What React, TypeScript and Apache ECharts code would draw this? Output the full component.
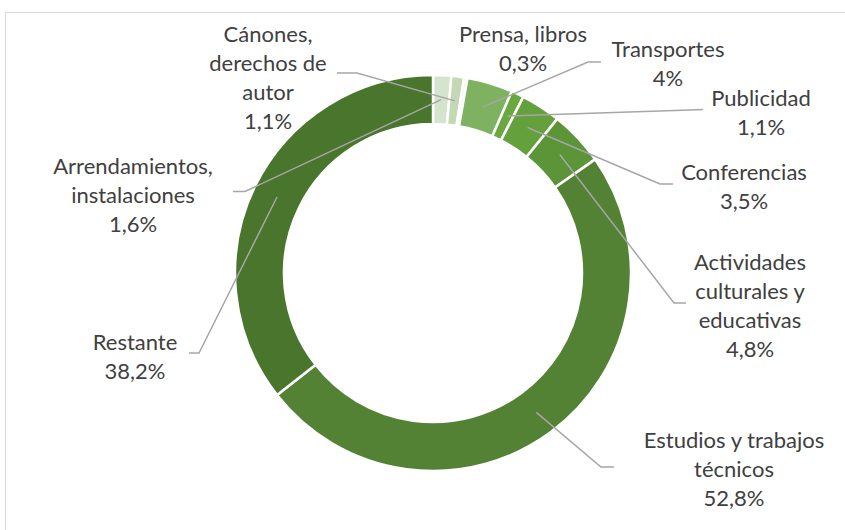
import React, { useEffect, useRef } from "react";
import * as echarts from "echarts";

// Data (clockwise from 12 o'clock)
const CATEGORIES = [
  "Arrendamientos,\ninstalaciones",
  "Cánones,\nderechos de\nautor",
  "Prensa, libros",
  "Transportes",
  "Publicidad",
  "Conferencias",
  "Actividades\nculturales y\neducativas",
  "Estudios y trabajos\ntécnicos",
  "Restante",
];
const VALUES = [1.6, 1.1, 0.3, 4, 1.1, 3.5, 4.8, 52.8, 38.2];
const COLORS = [
  "#d5e4cc",
  "#c3d9b5",
  "#eef5e9",
  "#7eb160",
  "#68a83f",
  "#64a03c",
  "#5b9537",
  "#548235",
  "#4a752c",
];

// Layout (label block centres, leader attach / elbow points)
const CX = 433;
const CY = 273;
const R_IN = 149;
const R_OUT = 198;
type LL = { x: number; y: number; attach?: number[]; elbow?: number[] };
const LABEL_LAYOUT: LL[] = [
  { x: 133, y: 194, attach: [233, 191.5], elbow: [245, 191.5] },
  { x: 268, y: 76.5, attach: [337, 73], elbow: [357, 73] },
  { x: 523, y: 48 },
  { x: 668, y: 63, attach: [601, 62], elbow: [588, 62] },
  { x: 761, y: 112, attach: [703, 109.5], elbow: [690, 110] },
  { x: 744, y: 186, attach: [673, 184], elbow: [660, 184] },
  { x: 750, y: 304.5, attach: [686, 303], elbow: [674, 303] },
  { x: 734, y: 468.5, attach: [614, 467], elbow: [601, 467] },
  { x: 135, y: 355.5, attach: [189, 353], elbow: [199, 353] },
];

const fmtPct = (v: number) => String(v).replace(".", ",") + "%";

const BORDER = {
  id: "border",
  type: "rect",
  silent: true,
  shape: { x: 5.5, y: 12.5, width: 900, height: 600 },
  style: { fill: "none", stroke: "#d9d9d9", lineWidth: 1 },
};

export default function App() {
  const ref = useRef<HTMLDivElement>(null);
  useEffect(() => {
    if (!ref.current) return;
    const chart = echarts.init(ref.current, null, { renderer: "svg" });
    const data = VALUES.map((v, i) => ({
      name: CATEGORIES[i],
      value: v,
      itemStyle: { color: COLORS[i] },
    }));
    chart.setOption({
      animation: false,
      backgroundColor: "#ffffff",
      graphic: [BORDER],
      series: [
        {
          type: "pie",
          center: [CX, CY],
          radius: [R_IN, R_OUT],
          startAngle: 90,
          clockwise: true,
          avoidLabelOverlap: false,
          data,
          itemStyle: { borderColor: "#ffffff", borderWidth: 2.5 },
          label: {
            show: true,
            position: "outside",
            formatter: (p: any) => p.name + "\n" + fmtPct(p.value),
            fontFamily: "Lato",
            fontSize: 22,
            lineHeight: 29,
            color: "#404040",
            align: "center",
          },
          labelLine: { show: false },
          labelLayout: (params: any) => {
            const L = LABEL_LAYOUT[params.dataIndex];
            return {
              x: L.x,
              y: L.y,
              align: "center",
              verticalAlign: "middle",
            };
          },
        },
      ],
    });

    // Leader lines: anchored at each sector's mid-angle / mid-radius, from the library's layout
    try {
      const sData = (chart as any).getModel().getSeriesByIndex(0).getData();
      const lines: any[] = [];
      for (let i = 0; i < VALUES.length; i++) {
        const L = LABEL_LAYOUT[i];
        if (!L.attach || !L.elbow) continue;
        const lay = sData.getItemLayout(i);
        if (!lay) continue;
        const mid = (lay.startAngle + lay.endAngle) / 2;
        const mr = (lay.r + lay.r0) / 2;
        const ax = lay.cx + mr * Math.cos(mid);
        const ay = lay.cy + mr * Math.sin(mid);
        lines.push({
          type: "polyline",
          silent: true,
          z: 100,
          shape: { points: [[ax, ay], L.elbow, L.attach] },
          style: { stroke: "#a6a6a6", lineWidth: 1.5, fill: "none" },
        });
      }
      chart.setOption({ graphic: [BORDER, ...lines] });
    } catch (e) {
      // ignore
    }
    return () => chart.dispose();
  }, []);
  return (
    <div
      ref={ref}
      style={{ position: "absolute", left: 0, top: 0, width: 845, height: 530 }}
    />
  );
}
